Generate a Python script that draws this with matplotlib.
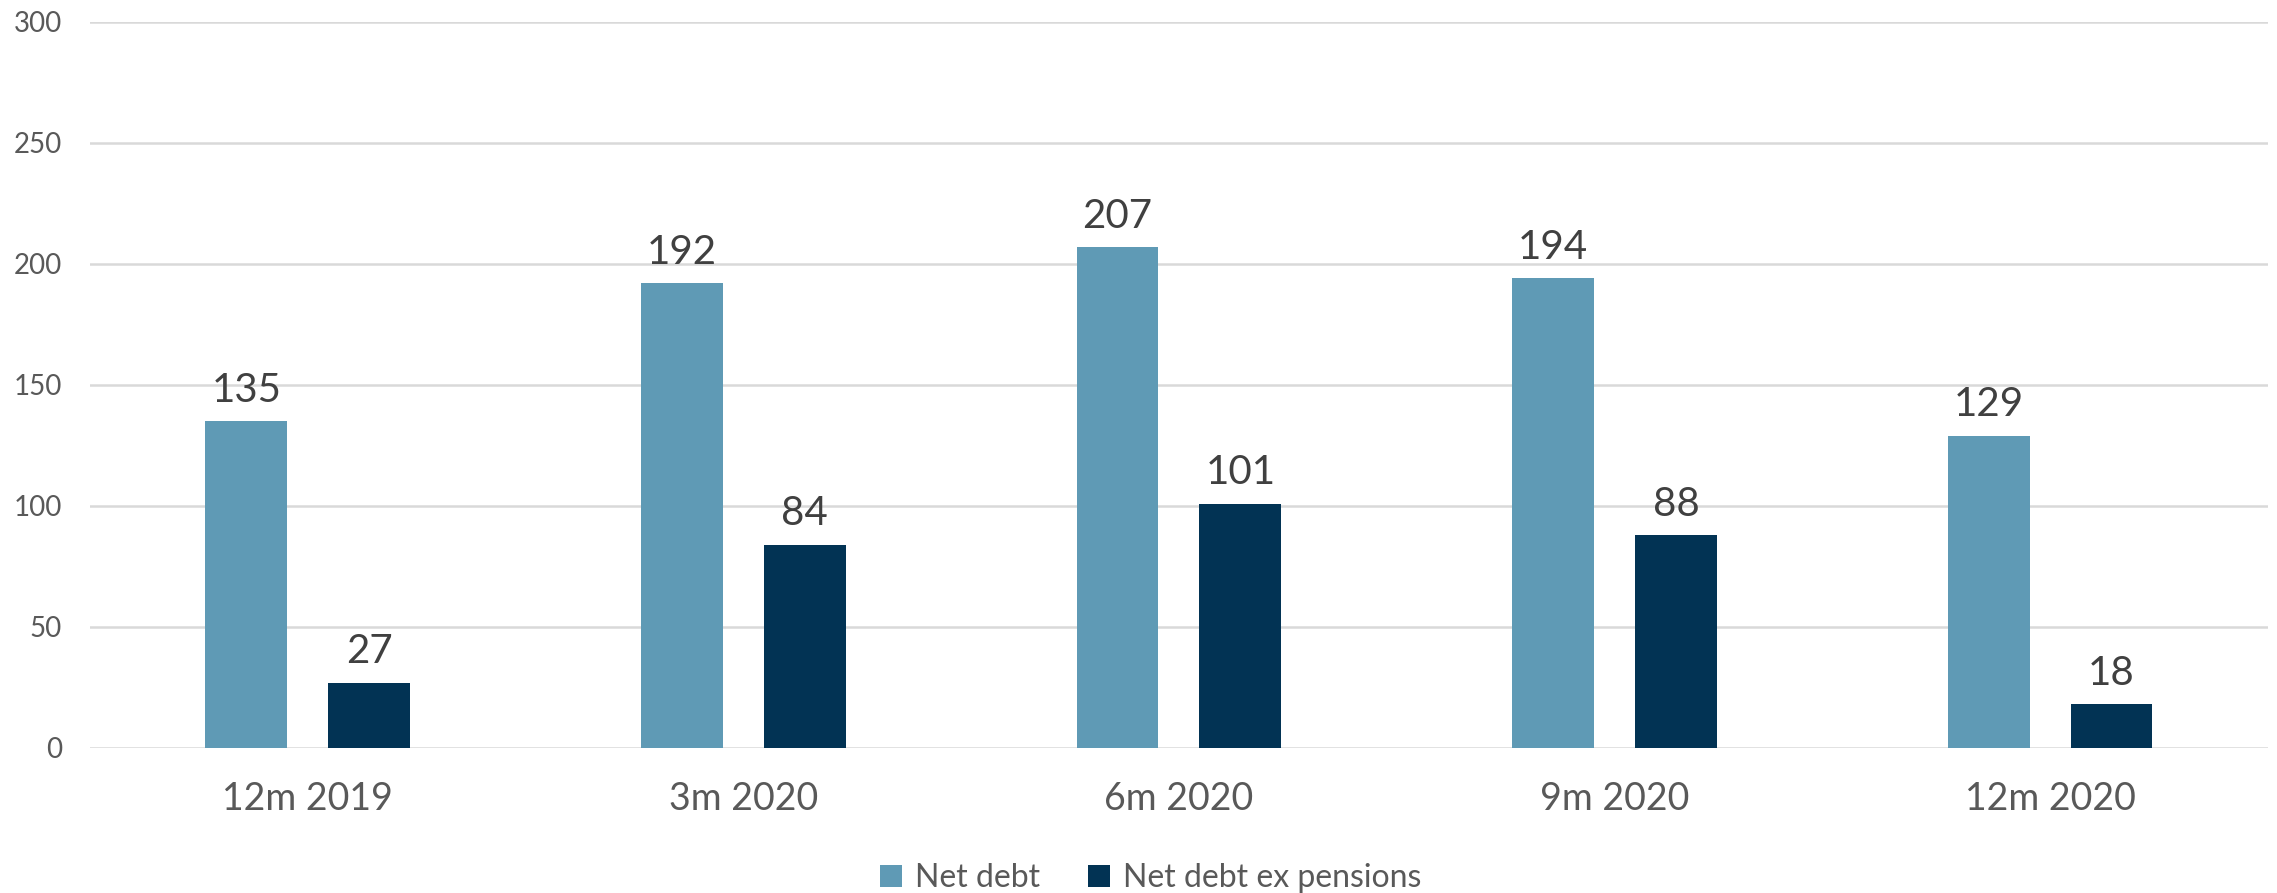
import numpy as np
import matplotlib.pyplot as plt

# --- datos ---
periodos = ['12m 2019', '3m 2020', '6m 2020', '9m 2020', '12m 2020']
net_debt = [135, 192, 207, 194, 129]
net_debt_ex_pensions = [27, 84, 101, 88, 18]

plt.rcParams['font.family'] = ['Lato', 'DejaVu Sans']

color_claro = '#5F9AB5'
color_oscuro = '#023354'

fig = plt.figure(figsize=(22.77, 8.93), dpi=100)
ax = fig.add_axes([0.0395, 0.1624, 0.9565, 0.813])

x = np.arange(len(periodos))
ancho = 0.188
desp = 0.141

b1 = ax.bar(x - desp, net_debt, ancho, color=color_claro, label='Net debt', zorder=3)
b2 = ax.bar(x + desp, net_debt_ex_pensions, ancho, color=color_oscuro,
            label='Net debt ex pensions', zorder=3)

for barras in (b1, b2):
    ax.bar_label(barras, padding=9, fontsize=29, color='#404040')

ax.set_xlim(-0.5, len(periodos) - 0.5)
ax.set_ylim(0, 300)
ax.set_yticks(range(0, 301, 50))
ax.set_xticks(x)
ax.set_xticklabels(periodos)

ax.grid(axis='y', color='#D9D9D9', linewidth=1.8, zorder=0)
for lado in ['top', 'right', 'left', 'bottom']:
    ax.spines[lado].set_visible(False)
ax.tick_params(axis='y', length=0, pad=20, labelsize=20, labelcolor='#595959')
ax.tick_params(axis='x', length=0, pad=24, labelsize=27, labelcolor='#595959')

leg = ax.legend(loc='lower center', bbox_to_anchor=(0.487, -0.24), ncol=2,
                frameon=False, fontsize=23, handlelength=0.7, handleheight=0.7,
                handletextpad=0.4, columnspacing=1.5)
for t in leg.get_texts():
    t.set_color('#595959')

fig.savefig('out.png', dpi=100)
